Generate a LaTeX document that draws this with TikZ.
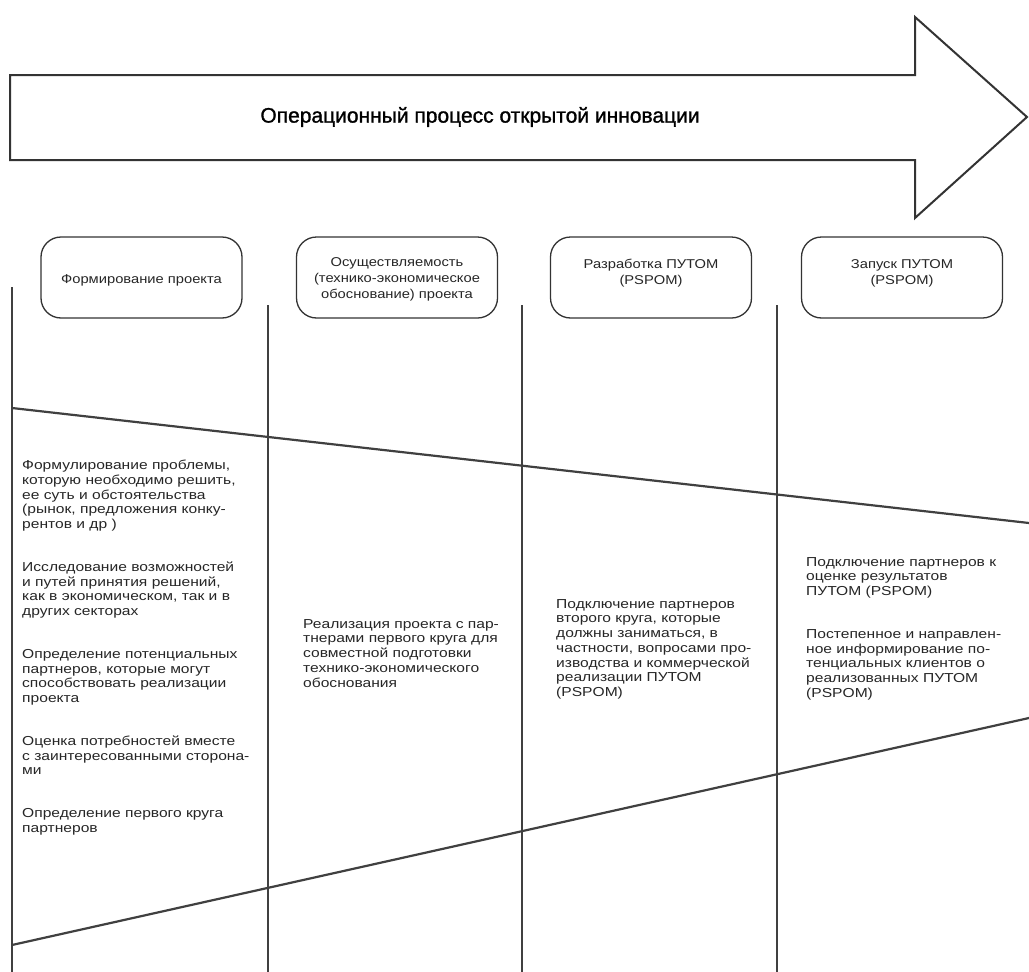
\documentclass[tikz,border=0pt]{standalone}
\usepackage{fontspec}
\setmainfont{Liberation Sans}
\newfontfamily\widesans[FakeStretch=1.2]{Liberation Sans}
\newfontfamily\boxsans[FakeStretch=1.15]{Liberation Sans}
\newfontfamily\titlesans[FakeBold=1.2]{Liberation Sans}
\begin{document}
\begin{tikzpicture}[x=1pt,y=-1pt,line join=miter,
  outline/.style={draw=black!80,line width=2pt},
  rule/.style={draw=black!75,line width=2.2pt},
  stage/.style={draw=black!80,line width=1.3pt,rounded corners=20pt,minimum width=201pt,minimum height=81pt,inner sep=0pt},
  stagetext/.style={align=center,inner sep=0pt,font=\boxsans\fontsize{12.8}{16}\selectfont,text=black!85},
  desc/.style={anchor=north west,align=left,inner sep=0pt,font=\widesans\fontsize{13}{14.75}\selectfont,text=black!85}]
\useasboundingbox (0,0) rectangle (1029,972);
\fill[white] (0,0) rectangle (1029,972);
% big process arrow
\draw[outline] (10,75) -- (915,75) -- (915,17) -- (1027,117) -- (915,218) -- (915,160) -- (10,160) -- cycle;
\node[font=\titlesans\fontsize{21}{24}\selectfont,text=black] (title) at (480,117) {Операционный процесс открытой инновации};
% stage boxes
\node[stage] (s1) at (141.5,277.5) {};
\node[stage] (s2) at (397,277.5) {};
\node[stage] (s3) at (651,277.5) {};
\node[stage] (s4) at (902,277.5) {};
\node[stagetext] (s1t) at (141.5,280) {Формирование проекта};
\node[stagetext] (s2t) at (397,279) {Осуществляемость\\(технико-экономическое\\обоснование) проекта};
\node[stagetext] (s3t) at (651,273) {Разработка ПУТОМ\\(PSPOM)};
\node[stagetext] (s4t) at (902,273) {Запуск ПУТОМ\\(PSPOM)};
% column rules
\coordinate (v1t) at (12,287);  \coordinate (v1b) at (12,972);
\coordinate (v2t) at (268,305); \coordinate (v2b) at (268,972);
\coordinate (v3t) at (522,305); \coordinate (v3b) at (522,972);
\coordinate (v4t) at (777,305); \coordinate (v4b) at (777,972);
\draw[rule] (v1t) -- (v1b);
\draw[rule] (v2t) -- (v2b);
\draw[rule] (v3t) -- (v3b);
\draw[rule] (v4t) -- (v4b);
% diagonals
\coordinate (d1l) at (12,408); \coordinate (d1r) at (1029,523);
\coordinate (d2l) at (12,945); \coordinate (d2r) at (1029,718);
\draw[rule] (d1l) -- (d1r);
\draw[rule] (d2l) -- (d2r);
% descriptions
\node[desc] (t1) at (22,460) {Формулирование проблемы,\\которую необходимо решить,\\ее суть и обстоятельства\\(рынок, предложения конку-\\рентов и др )\\[28pt]%
Исследование возможностей\\и путей принятия решений,\\как в экономическом, так и в\\других секторах\\[28pt]%
Определение потенциальных\\партнеров, которые могут\\способствовать реализации\\проекта\\[28pt]%
Оценка потребностей вместе\\с заинтересованными сторона-\\ми\\[28pt]%
Определение первого круга\\партнеров};
\node[desc] (t2) at (303,619) {Реализация проекта с пар-\\тнерами первого круга для\\совместной подготовки\\технико-экономического\\обоснования};
\node[desc] (t3) at (556,599) {Подключение партнеров\\второго круга, которые\\должны заниматься, в\\частности, вопросами про-\\изводства и коммерческой\\реализации ПУТОМ\\(PSPOM)};
\node[desc] (t4) at (806,557) {Подключение партнеров к\\оценке результатов\\ПУТОМ (PSPOM)\\[28pt]%
Постепенное и направлен-\\ное информирование по-\\тенциальных клиентов о\\реализованных ПУТОМ\\(PSPOM)};
\end{tikzpicture}
\end{document}
